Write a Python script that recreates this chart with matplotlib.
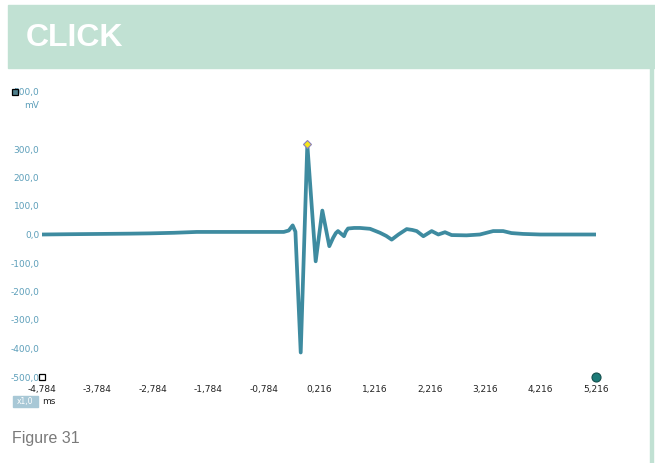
import matplotlib.pyplot as plt
from matplotlib.patches import Rectangle
import numpy as np

# signal samples (ms, mV)
t_ms = [-4.784, -4.30, -3.74, -3.20, -2.83, -2.40, -1.99, -1.50, -1.03,
        -0.60, -0.42, -0.33, -0.259, -0.21, -0.114, 0.005, 0.156, 0.276,
        0.402, 0.47, 0.52, 0.559, 0.62, 0.667, 0.70, 0.74, 0.85, 0.956,
        1.137, 1.317, 1.43, 1.528, 1.65, 1.799, 1.90, 1.98, 2.10, 2.25,
        2.37, 2.49, 2.61, 2.88, 3.12, 3.36, 3.54, 3.69, 3.90, 4.21, 4.70,
        5.216]
v_mv = [0, 1, 2, 3, 4, 6, 9, 9, 9,
        9, 9, 14, 32, 10, -414, 316, -94, 84,
        -41, -12, 5, 12, 2, -6, 10, 21, 23, 23,
        20, 6, -5, -18, 0, 19, 16, 12, -6, 12,
        0, 8, -2, -3, 0, 12, 12, 5, 2, 0, 0,
        0]

x_ticks = [-4.784 + k for k in range(11)]
x_labels = [f"{v:.3f}".replace(".", ",") for v in x_ticks]
y_ticks = [500, 300, 200, 100, 0, -100, -200, -300, -400, -500]
y_labels = [f"{v:.1f}".replace(".", ",") for v in y_ticks]

line_col = "#3e8ba0"
tick_col = "#5d9fba"

fig = plt.figure(figsize=(6.55, 4.63), dpi=100)
fig.patch.set_facecolor("white")

# header band
fig.patches.append(Rectangle((8 / 655, 1 - 68 / 463), 1, 63 / 463,
                             transform=fig.transFigure, color="#c1e1d3", zorder=0))
fig.patches.append(Rectangle((650 / 655, 0), 3 / 655, 1 - 68 / 463,
                             transform=fig.transFigure, color="#c1e1d3", zorder=0))
fig.text(26 / 655, 1 - 38 / 463, "CLICK", color="white", fontsize=23,
         fontweight="bold", family="Liberation Sans", va="center", ha="left")

ax = fig.add_axes([42 / 655, 86 / 463, 554 / 655, 285 / 463])
ax.plot(t_ms, v_mv, color=line_col, lw=2.7, zorder=3)

# peak marker and cursors
ipk = int(np.argmax(v_mv))
ax.plot(t_ms[ipk], v_mv[ipk], marker="D", ms=4.5, mfc="#f5e61a", mec="#8a7fc0",
        mew=0.8, zorder=5)
ax.plot(x_ticks[0], -500, marker="s", ms=5, mfc="white", mec="black", mew=0.9,
        clip_on=False, zorder=5)
ax.plot(x_ticks[-1], -500, marker="o", ms=6.5, mfc="#1c7b78", mec="#134f4d",
        mew=0.8, clip_on=False, zorder=5)
ax.plot(-0.0487, 1.0, marker="s", ms=5, mfc="#4f7f8c", mec="black", mew=0.9,
        transform=ax.transAxes, clip_on=False, zorder=5)

ax.set_xlim(x_ticks[0], x_ticks[-1])
ax.set_ylim(-500, 500)
ax.set_xticks(x_ticks)
ax.set_xticklabels(x_labels)
ax.set_yticks(y_ticks)
ax.set_yticklabels(y_labels)
ax.tick_params(axis="x", length=0, pad=6, labelsize=6.5, labelcolor="#222222")
ax.tick_params(axis="y", length=0, pad=2, labelsize=6.5, labelcolor=tick_col)
for s in ax.spines.values():
    s.set_visible(False)
ax.set_facecolor("none")

fig.text(32 / 655, 1 - 105 / 463, "mV", color=tick_col, fontsize=6.5,
         ha="center", va="center")

# time scale badge
fig.patches.append(Rectangle((13 / 655, 1 - 407 / 463), 25 / 655, 11 / 463,
                             transform=fig.transFigure, color="#a8c8d6", zorder=1))
fig.text(25.5 / 655, 1 - 401.5 / 463, "x1,0", color="white", fontsize=5.5,
         ha="center", va="center")
fig.text(42 / 655, 1 - 401.5 / 463, "ms", color="#222222", fontsize=6.5,
         ha="left", va="center")

fig.text(12 / 655, 1 - 438 / 463, "Figure 31", color="#7a7a7a", fontsize=11.5,
         family="Liberation Sans", ha="left", va="center")

fig.savefig("out.png", dpi=100)
